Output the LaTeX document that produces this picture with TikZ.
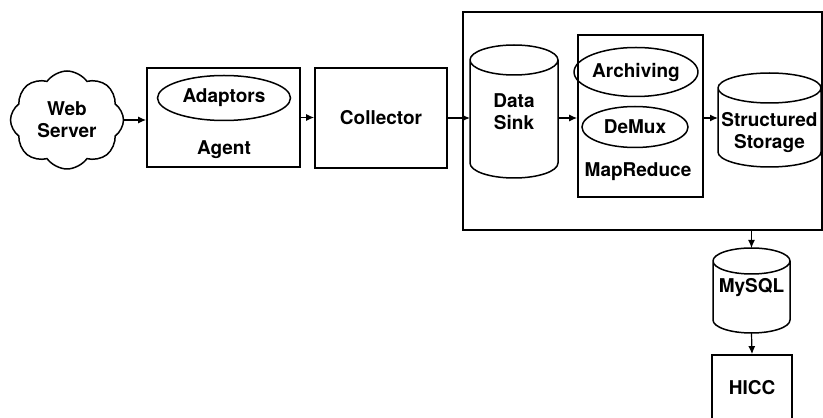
\documentclass[tikz,border=0pt]{standalone}
\usepackage{fontspec}
\setmainfont{TeX Gyre Heros}
\usetikzlibrary{calc,arrows.meta,shapes.geometric,shapes.symbols}

% storage drum drawn over an empty node
\newcommand{\drum}[2]{%
  \draw[line width=1.5pt] let \p1=(#1.north west), \p2=(#1.south east), \n1={(\x2-\x1)/2} in
    (\x1,\y1-#2pt) arc[start angle=180,end angle=-180,x radius=\n1,y radius=#2pt]
    (\x1,\y1-#2pt) -- (\x1,\y2+#2pt) arc[start angle=180,end angle=360,x radius=\n1,y radius=#2pt] -- (\x2,\y1-#2pt);}

\begin{document}
\begin{tikzpicture}[x=1pt,y=1pt,font=\fontsize{19}{22}\selectfont\bfseries,
  frame/.style={draw,line width=1.7pt,inner sep=0pt},
  blob/.style={draw,ellipse,line width=1.5pt,inner sep=0pt},
  drumnode/.style={inner sep=0pt,outer sep=0pt},
  conn/.style={line width=1.2pt,-{Latex[length=8pt,width=7pt]}}]
  \useasboundingbox (0,0) rectangle (823,418);
  \clip (0,0) rectangle (823,418);

  \node[frame,minimum width=359,minimum height=218] (store) at (642.5,297) {};

  \node[cloud,draw,line width=1.5pt,cloud puffs=8,cloud puff arc=110,aspect=1.1,minimum width=113,minimum height=98,align=center,inner sep=0pt] (web) at (67,298) {Web\\Server};

  \node[frame,minimum width=153,minimum height=99] (agent) at (223.5,300.5) {};
  \node[blob,minimum width=133,minimum height=45] (adaptors) at (224,320) {Adaptors};
  \node (agentlbl) at (224,268) {Agent};
  \node[frame,minimum width=132,minimum height=100] (collector) at (381,300) {Collector};

  \node[drumnode,minimum width=88,minimum height=133] (sink) at (514,306.5) {};
  \drum{sink}{15}
  \node[align=center] (sinklbl) at (514,306.5) {Data\\Sink};

  \node[frame,minimum width=125,minimum height=162] (mapred) at (640.5,302) {};
  \node[blob,minimum width=107,minimum height=49] (archiving) at (636,346) {Archiving};
  \node[blob,minimum width=106,minimum height=41] (demux) at (635,291) {DeMux};
  \node (mrlbl) at (638,246) {MapReduce};

  \node[drumnode,minimum width=103,minimum height=94] (structured) at (769.5,298) {};
  \drum{structured}{15}
  \node[align=center] (structlbl) at (769.5,285) {Structured\\Storage};

  \node[drumnode,minimum width=77,minimum height=85] (mysql) at (751.5,127.5) {};
  \drum{mysql}{13}
  \node (mysqllbl) at (751.5,130) {MySQL};

  \node[frame,minimum width=80,minimum height=66] (hicc) at (752,30) {HICC};

  \draw[conn] (web.east) -- (web.east -| agent.west);
  \draw[conn] (agent.east) -- (agent.east -| collector.west);
  \draw[conn] (collector.east) -- (collector.east -| sink.west);
  \draw[conn] (collector.east -| sink.east) -- (collector.east -| mapred.west);
  \draw[conn] (collector.east -| mapred.east) -- (collector.east -| structured.west);
  \draw[conn] (store.south -| mysql) -- (mysql.north);
  \draw[conn] (mysql.south) -- (hicc.north);
\end{tikzpicture}
\end{document}
